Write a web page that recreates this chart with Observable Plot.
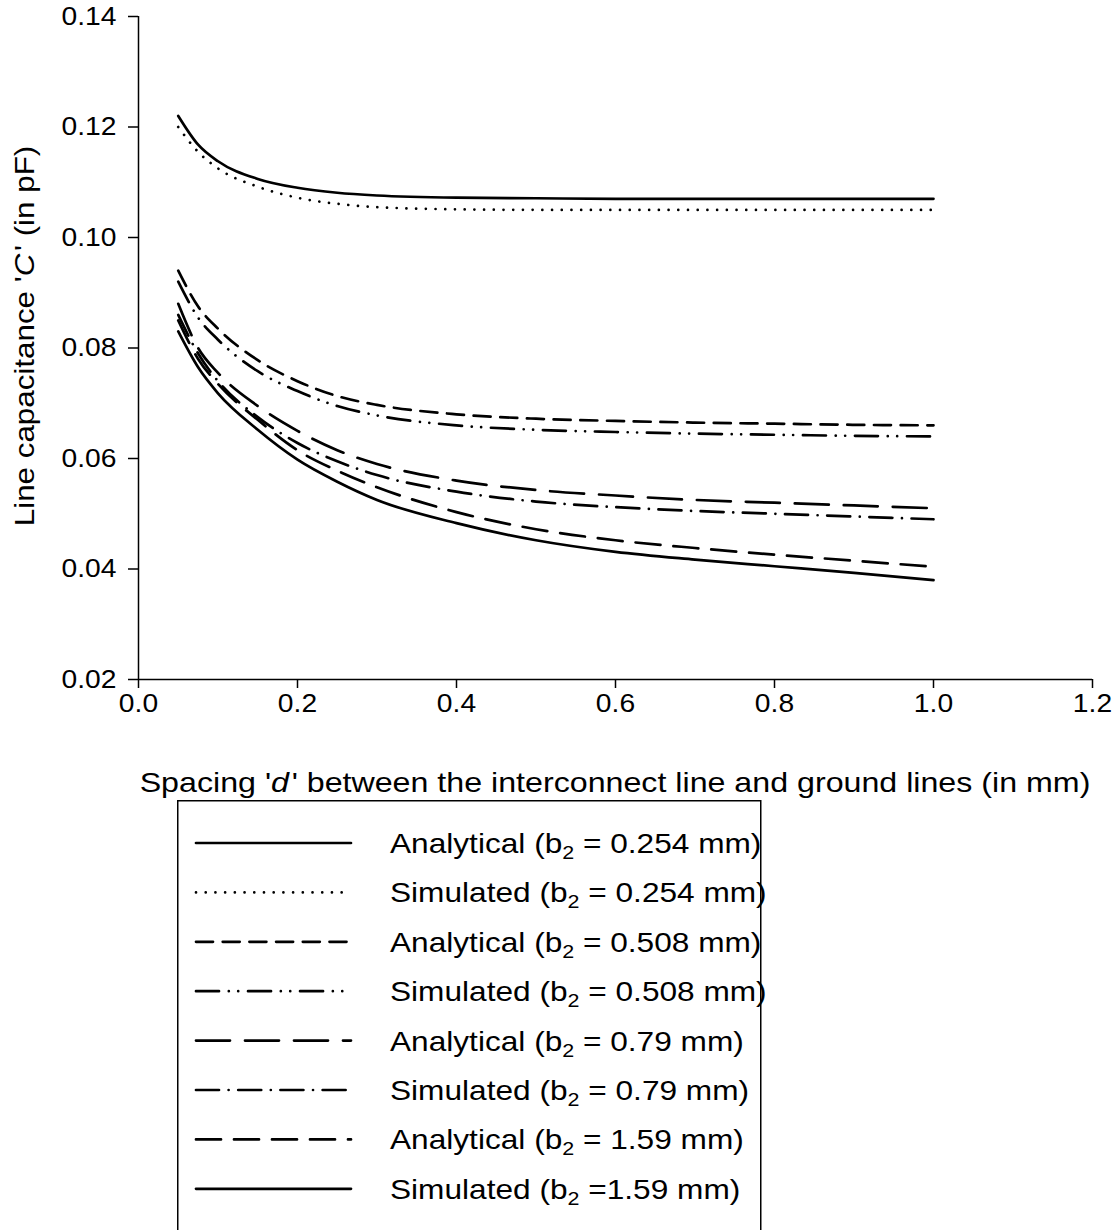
<!DOCTYPE html>
<html><head><meta charset="utf-8">
<script src="https://cdn.jsdelivr.net/npm/d3@7"></script>
<script src="https://cdn.jsdelivr.net/npm/@observablehq/plot@0.6"></script>
<style>
body{margin:0;background:#fff;}
#chart{width:1118px;}
#chart svg{display:block;}
</style></head><body><div id="chart"></div>
<script>
// ---- data ----
const spacing = [0.05, 0.075, 0.1, 0.15, 0.2, 0.25, 0.3, 0.4, 0.5, 0.6, 0.7, 0.8, 0.9, 1.0];
const analytical254 = [0.122, 0.1168, 0.1138, 0.1106, 0.1090, 0.1081, 0.1076, 0.1072, 0.1071, 0.107, 0.107, 0.107, 0.107, 0.107];
const simulated254  = [0.120, 0.1155, 0.1125, 0.1092, 0.1072, 0.1061, 0.1055, 0.1051, 0.105, 0.105, 0.105, 0.105, 0.105, 0.105];
const analytical508 = [0.094, 0.0875, 0.0835, 0.0778, 0.074, 0.0713, 0.0697, 0.068, 0.0672, 0.0668, 0.0665, 0.0663, 0.0661, 0.066];
const simulated508  = [0.092, 0.0855, 0.0815, 0.0758, 0.0722, 0.0695, 0.0678, 0.066, 0.0652, 0.0648, 0.0645, 0.0643, 0.0641, 0.064];
const analytical79  = [0.088, 0.080, 0.0755, 0.0695, 0.065, 0.0615, 0.059, 0.056, 0.0543, 0.0533, 0.0525, 0.052, 0.0515, 0.051];
const simulated79   = [0.086, 0.079, 0.074, 0.0675, 0.0628, 0.0595, 0.057, 0.054, 0.0522, 0.0512, 0.0505, 0.050, 0.0495, 0.049];
const analytical159 = [0.085, 0.078, 0.0735, 0.067, 0.0615, 0.0578, 0.0548, 0.0503, 0.0472, 0.0452, 0.0438, 0.0426, 0.0415, 0.0404];
const simulated159  = [0.083, 0.0765, 0.0718, 0.0652, 0.0598, 0.0558, 0.0525, 0.0483, 0.0452, 0.0431, 0.0417, 0.0405, 0.0393, 0.038];

const xTicks = [0, 0.2, 0.4, 0.6, 0.8, 1.0, 1.2];
const yTicks = [0.02, 0.04, 0.06, 0.08, 0.10, 0.12, 0.14];

const seriesNames = [
  ["Analytical (b", "2", " = 0.254 mm)"],
  ["Simulated (b", "2", " = 0.254 mm)"],
  ["Analytical (b", "2", " = 0.508 mm)"],
  ["Simulated (b", "2", " = 0.508 mm)"],
  ["Analytical (b", "2", " = 0.79 mm)"],
  ["Simulated (b", "2", " = 0.79 mm)"],
  ["Analytical (b", "2", " = 1.59 mm)"],
  ["Simulated (b", "2", " =1.59 mm)"]
];
const seriesValues = [analytical254, simulated254, analytical508, simulated508, analytical79, simulated79, analytical159, simulated159];
// line styles
const dashes = [null, "0.01 9.7", "17 9.7", "23 9.8 0.01 9.4 0.01 9.8", "34 15", "23 9.6 0.01 9.6", "25 13", null];

const FONT = "'Liberation Sans', Arial, Helvetica, sans-serif";
const STRETCH = 1.13;

const lineMarks = seriesValues.map((vals, i) => {
  const data = spacing.map((d, j) => ({d, c: vals[j]}));
  return Plot.line(data, {
    x: "d", y: "c", curve: "monotone-x",
    stroke: "black", strokeWidth: 2.7,
    strokeDasharray: dashes[i] || undefined,
    strokeLinecap: "round", strokeLinejoin: "round"
  });
});

const plot = Plot.plot({
  width: 1118, height: 800,
  marginLeft: 138, marginRight: 26, marginTop: 16, marginBottom: 121,
  style: {fontFamily: FONT, fontSize: "25px", color: "black", background: "white"},
  x: {domain: [0, 1.2]},
  y: {domain: [0.02, 0.14]},
  marks: [
    Plot.axisX({ticks: xTicks, tickFormat: d3.format(".1f"), tickSize: 9, tickPadding: 6, label: null, strokeWidth: 1.5}),
    Plot.axisY({ticks: yTicks, tickFormat: d3.format(".2f"), tickSize: 10, tickPadding: 12, label: null, strokeWidth: 1.5}),
    Plot.ruleX([0], {y1: 0.02, y2: 0.14, stroke: "black", strokeWidth: 1.5}),
    Plot.ruleY([0.02], {x1: 0, x2: 1.2, stroke: "black", strokeWidth: 1.5}),
    ...lineMarks
  ]
});

document.getElementById("chart").appendChild(plot);

// horizontal stretch of text, as in the reference
d3.select(plot).selectAll("text").each(function() {
  const t = this.getAttribute("transform") || "";
  this.setAttribute("transform", (t + ` scale(${STRETCH},1)`).trim());
});

const svg = d3.select(plot);
// y-axis label
const yl = svg.append("text")
  .attr("transform", `translate(34,336) rotate(-90) scale(1.12,1)`)
  .attr("text-anchor", "middle").attr("font-size", 28).attr("font-family", FONT).attr("fill", "black");
yl.append("tspan").text("Line capacitance '");
yl.append("tspan").attr("font-style", "italic").text("C");
yl.append("tspan").text("\u200A' (in pF)");
// x-axis label
const xl = svg.append("text")
  .attr("transform", `translate(615,792) scale(${STRETCH},1)`)
  .attr("text-anchor", "middle").attr("font-size", 28.5).attr("font-family", FONT).attr("fill", "black");
xl.append("tspan").text("Spacing '");
xl.append("tspan").attr("font-style", "italic").text("d");
xl.append("tspan").text("\u200A' between the interconnect line and ground lines (in mm)");

// legend below the plot
const leg = d3.select("#chart").append("svg").attr("width", 1118).attr("height", 430)
  .style("display", "block").attr("font-family", FONT);
leg.append("rect").attr("x", 177.75).attr("y", 0.75).attr("width", 583).attr("height", 600)
  .attr("fill", "white").attr("stroke", "black").attr("stroke-width", 1.5);
seriesNames.forEach((parts, i) => {
  const cy = 43 + i * 49.4;
  const ln = leg.append("line").attr("x1", 196).attr("x2", 351).attr("y1", cy).attr("y2", cy)
    .attr("stroke", "black").attr("stroke-width", 2.7).attr("stroke-linecap", "round");
  if (dashes[i]) ln.attr("stroke-dasharray", dashes[i]);
  const tx = leg.append("text").attr("transform", `translate(390,${cy + 10}) scale(${STRETCH},1)`)
    .attr("font-size", 28).attr("fill", "black");
  tx.append("tspan").text(parts[0]);
  tx.append("tspan").attr("font-size", 19).attr("dy", 6).text(parts[1]);
  tx.append("tspan").attr("dy", -6).text(parts[2]);
});
</script>
</body></html>
